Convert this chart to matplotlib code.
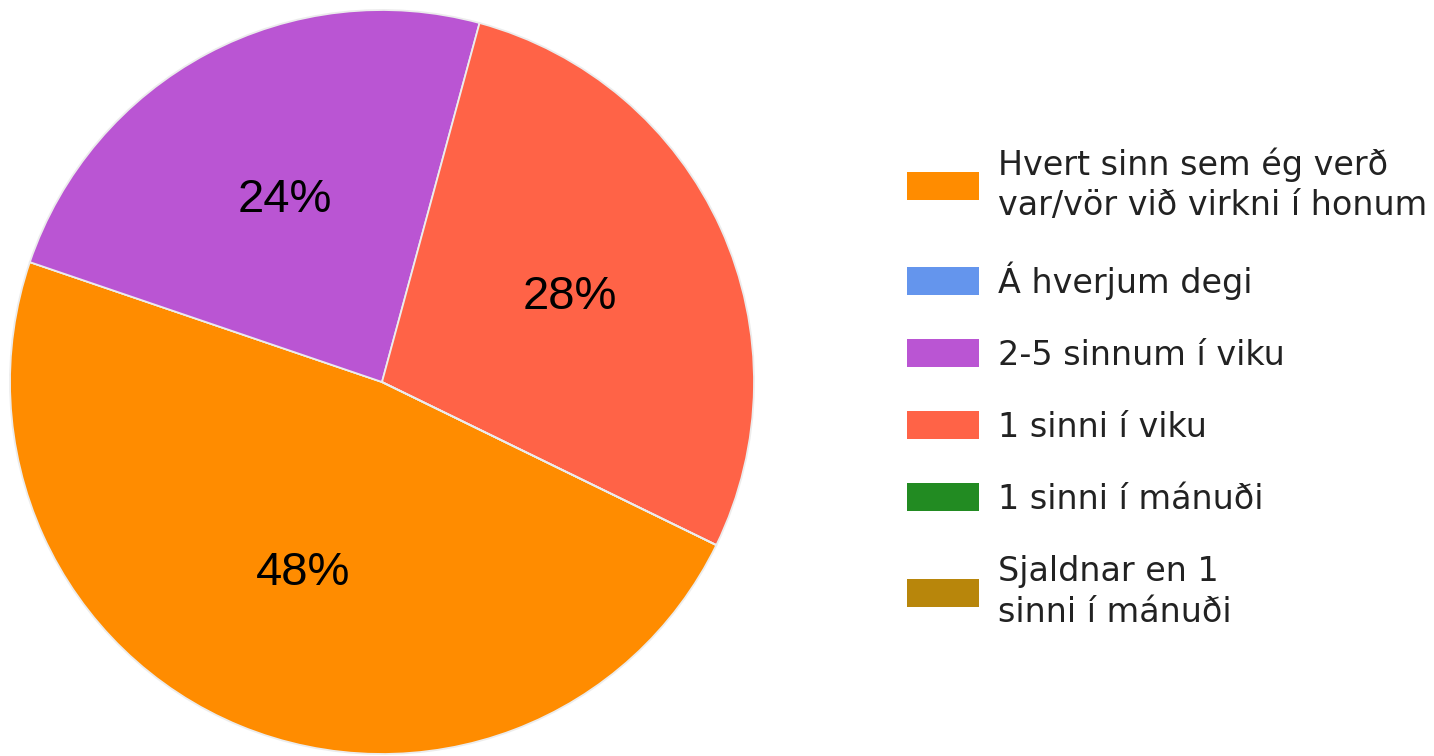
import matplotlib
matplotlib.use("Agg")
import matplotlib.pyplot as plt
from matplotlib.patches import Patch

categories = [
    "Hvert sinn sem ég verð\nvar/vör við virkni í honum",
    "Á hverjum degi",
    "2-5 sinnum í viku",
    "1 sinni í viku",
    "1 sinni í mánuði",
    "Sjaldnar en 1\nsinni í mánuði",
]
values = [48, 0, 24, 28, 0, 0]
colors = ["#FF8C00", "#6495ED", "#BA55D3", "#FF6347", "#228B22", "#B8860B"]

W, H = 1434, 756
fig = plt.figure(figsize=(W / 100, H / 100), dpi=100)
ax = fig.add_axes([10 / W, 2 / H, 744 / W, 744 / H])

def fmt(p):
    return f"{p:.0f}%" if p > 0.5 else ""

wedges, texts, autotexts = ax.pie(
    values,
    colors=colors,
    startangle=334,
    counterclock=False,
    radius=1.0,
    autopct=fmt,
    pctdistance=0.555,
    wedgeprops=dict(edgecolor="#ececec", linewidth=1.3),
    textprops=dict(fontsize=34, family="Liberation Sans", color="black"),
)
ax.set_xlim(-1, 1)
ax.set_ylim(-1, 1)
ax.set_aspect("equal")
ax.axis("off")

handles = [Patch(facecolor=c, edgecolor="none") for c in colors]
leg = fig.legend(
    handles,
    categories,
    loc="upper left",
    bbox_to_anchor=(907 / W, 1 - 147 / H),
    frameon=False,
    prop=dict(family="DejaVu Sans", size=24),
    handlelength=2.15,
    handleheight=0.9,
    handletextpad=0.57,
    labelspacing=1.17,
    borderpad=0,
    borderaxespad=0,
    labelcolor="#222222",
)
for t in leg.get_texts():
    t.set_linespacing(1.3)

fig.savefig("out.png", dpi=100, facecolor="white")
